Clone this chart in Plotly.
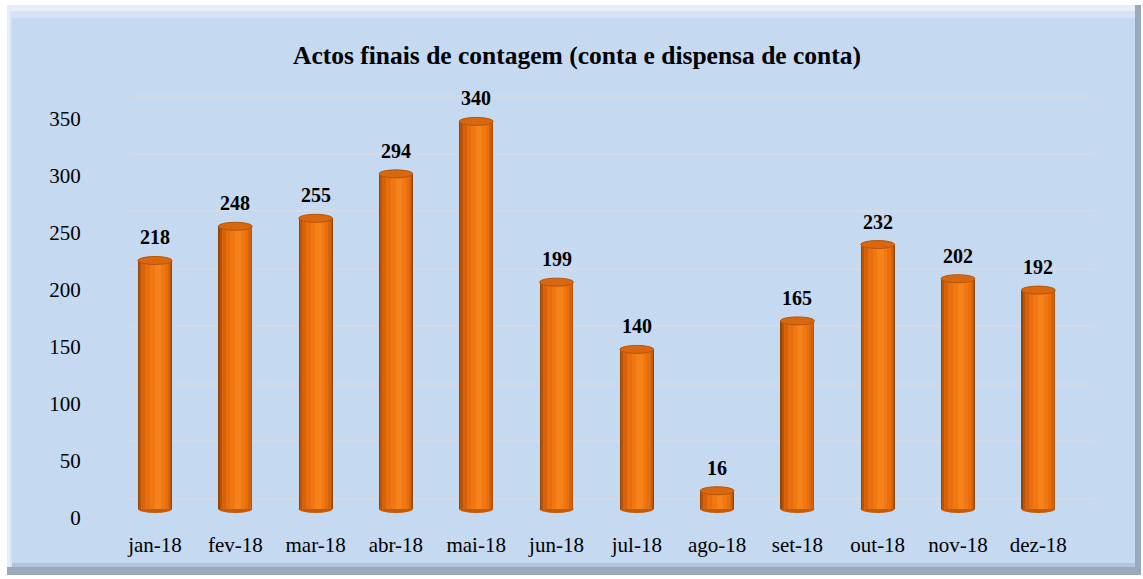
import plotly.graph_objects as go

# ---- data ----
months = ["jan-18", "fev-18", "mar-18", "abr-18", "mai-18", "jun-18",
          "jul-18", "ago-18", "set-18", "out-18", "nov-18", "dez-18"]
values = [218, 248, 255, 294, 340, 199, 140, 16, 165, 232, 202, 192]
title_text = "Actos finais de contagem (conta e dispensa de conta)"
y_ticks = [0, 50, 100, 150, 200, 250, 300, 350]

# ---- layout geometry (pixels) ----
W_FIG, H_FIG = 1143, 579
L, R, T, B = 130, 50, 88, 63
PW = W_FIG - L - R
PH = H_FIG - T - B
Y0_PX = 509          # pixel of value 0 for bars
K = 1.14             # px per unit for bars
K2 = 1.15            # px per unit for back-wall gridlines
G350_PX = 96         # pixel of 350 gridline

ymin = -((H_FIG - B) - Y0_PX) / K
ymax = (Y0_PX - T) / K
y2min = 350 - ((H_FIG - B) - G350_PX) / K2
y2max = 350 + (G350_PX - T) / K2

X0_PX, STEP = 155, 80.3
xmin = (L - X0_PX) / STEP
xmax = (W_FIG - R - X0_PX) / STEP


def xp(px):
    return (px - L) / PW


def yp(py):
    return ((H_FIG - B) - py) / PH


xs = list(range(len(months)))
BAR_W = 0.423

fig = go.Figure()

# cylinder shading layers
layers = [
    (BAR_W, 0.0, "#93450c"),
    (0.40, 0.004, "#b85408"),
    (0.36, 0.01, "#d6630a"),
    (0.28, 0.02, "#e86e0e"),
    (0.18, 0.03, "#f07812"),
    (0.08, 0.035, "#f5821a"),
]
for w, sh, col in layers:
    fig.add_trace(go.Bar(
        x=xs, y=values, width=[w] * len(xs), offset=[-w / 2 + sh] * len(xs),
        marker=dict(color=col, line=dict(width=0)),
        hoverinfo="skip", showlegend=False, yaxis="y"))

# invisible trace to activate gridline axis
fig.add_trace(go.Scatter(x=[xs[0]], y=[0], mode="markers",
                         marker=dict(opacity=0), yaxis="y2",
                         hoverinfo="skip", showlegend=False))

shapes = [
    # frame
    dict(type="rect", xref="paper", yref="paper", x0=xp(7), x1=xp(1141),
         y0=yp(575), y1=yp(5), fillcolor="#9aa9bc", line=dict(width=0), layer="below"),
    dict(type="rect", xref="paper", yref="paper", x0=xp(7), x1=xp(1135),
         y0=yp(567), y1=yp(5), fillcolor="#e6eef8", line=dict(width=0), layer="below"),
    dict(type="rect", xref="paper", yref="paper", x0=xp(10), x1=xp(1135),
         y0=yp(567), y1=yp(11), fillcolor="#d5e3f4", line=dict(width=0), layer="below"),
    dict(type="rect", xref="paper", yref="paper", x0=xp(12), x1=xp(1135),
         y0=yp(567), y1=yp(18), fillcolor="#c5d9f1", line=dict(width=0), layer="below"),
    dict(type="rect", xref="paper", yref="paper", x0=xp(12), x1=xp(1135),
         y0=yp(567), y1=yp(563), fillcolor="#b3c4da", line=dict(width=0), layer="below"),
]

# top and bottom ellipses of cylinders
E = 4.0 / K
for x, v in zip(xs, values):
    shapes.append(dict(type="circle", xref="x", yref="y",
                       x0=x - BAR_W / 2, x1=x + BAR_W / 2, y0=-E, y1=E,
                       fillcolor="#c25c0c", line=dict(width=0), layer="below"))
    shapes.append(dict(type="circle", xref="x", yref="y",
                       x0=x - BAR_W / 2, x1=x + BAR_W / 2, y0=v - E, y1=v + E,
                       fillcolor="#d9670f", line=dict(color="#b4560c", width=1)))

annotations = [dict(x=x, y=v, xref="x", yref="y", text=f"<b>{v}</b>",
                    showarrow=False, yanchor="middle", yshift=23,
                    font=dict(family="Liberation Serif", size=20, color="#000000"))
               for x, v in zip(xs, values)]

fig.update_layout(
    width=W_FIG, height=H_FIG,
    margin=dict(l=L, r=R, t=T, b=B, pad=0),
    paper_bgcolor="#ffffff", plot_bgcolor="rgba(0,0,0,0)",
    barmode="overlay", bargap=0,
    shapes=shapes, annotations=annotations,
    title=dict(text=f"<b>{title_text}</b>", x=577 / W_FIG, xref="container",
               xanchor="center", y=1 - 55 / H_FIG, yref="container", yanchor="middle",
               font=dict(family="Liberation Serif", size=25.5, color="#000000")),
    xaxis=dict(range=[xmin, xmax], tickvals=xs, ticktext=months,
               showgrid=False, zeroline=False, showline=False,
               ticks="outside", ticklen=10, tickcolor="rgba(0,0,0,0)",
               tickfont=dict(family="Liberation Serif", size=21, color="#000000")),
    yaxis=dict(range=[ymin, ymax], tickvals=y_ticks, showgrid=False, zeroline=False,
               showline=False, ticks="outside", ticklen=44, tickcolor="rgba(0,0,0,0)",
               ticklabelshift=9,
               tickfont=dict(family="Liberation Serif", size=21, color="#000000")),
    yaxis2=dict(range=[y2min, y2max], overlaying="y", side="left", dtick=50, tick0=0,
                showgrid=True, gridcolor="#d4dae3", gridwidth=2, zeroline=False,
                showticklabels=False, ticks="", showline=False),
)

fig.write_html("out.html", config={"displayModeBar": False},
               post_script="document.body.style.margin='0px';")
